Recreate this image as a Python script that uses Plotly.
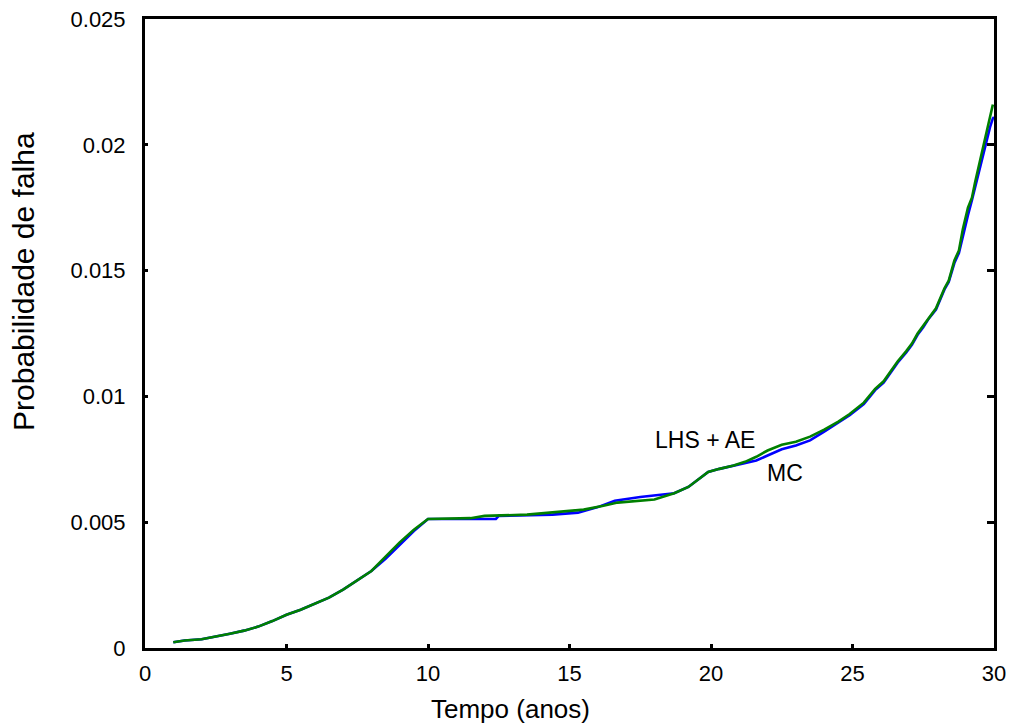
import plotly.graph_objects as go

# LHS + AE series (green)
lhs_x = [1.0, 1.4, 2.0, 2.5, 3.0, 3.5, 4.0, 4.5, 5.0, 5.5, 6.0, 6.5, 7.0, 7.5, 8.0,
         8.5, 9.0, 9.5, 10.0, 11.5, 12.0, 13.5, 14.4, 15.5, 16.2, 16.7, 18.0, 18.7,
         19.2, 19.5, 19.9, 20.3, 20.8, 21.2, 21.6, 22.0, 22.5, 23.0, 23.5, 24.0, 24.5,
         24.9, 25.4, 25.8, 26.1, 26.35, 26.6, 26.9, 27.1, 27.3, 27.5, 27.7, 27.95, 28.1,
         28.25, 28.4, 28.5, 28.6, 28.76, 28.9, 29.08, 29.22, 29.33, 29.43, 29.54, 29.65,
         29.75, 29.86, 29.96]
lhs_y = [0.00023, 0.00030, 0.00035, 0.00045, 0.00057, 0.00069, 0.00085, 0.00107, 0.00132,
         0.00152, 0.00176, 0.00200, 0.00232, 0.00270, 0.00306, 0.00363, 0.00420, 0.00470,
         0.00513, 0.00516, 0.00525, 0.00530, 0.00540, 0.00550, 0.00565, 0.00578, 0.00590,
         0.00615, 0.00640, 0.00665, 0.00700, 0.00712, 0.00725, 0.00740, 0.00760, 0.00785,
         0.00808, 0.00820, 0.00840, 0.00868, 0.00900, 0.00930, 0.00975, 0.01030, 0.01060,
         0.01100, 0.01140, 0.01180, 0.01210, 0.01250, 0.01280, 0.01315, 0.01350, 0.01390,
         0.01430, 0.01460, 0.01500, 0.01540, 0.01580, 0.01665, 0.01750, 0.01790, 0.01850,
         0.01900, 0.01950, 0.02010, 0.02060, 0.02110, 0.02160]

# MC series (blue)
mc_x = [1.0, 1.4, 2.0, 2.5, 3.0, 3.5, 4.0, 4.5, 5.0, 5.5, 6.0, 6.5, 7.0, 7.5, 8.0,
        8.5, 9.0, 9.5, 10.0, 12.4, 12.5, 14.4, 15.3, 16.0, 16.6, 17.5, 18.3, 18.7,
        19.2, 19.5, 19.9, 20.3, 20.8, 21.2, 21.6, 22.0, 22.5, 23.0, 23.5, 24.0, 24.5,
        24.9, 25.4, 25.8, 26.1, 26.35, 26.6, 26.9, 27.1, 27.3, 27.5, 27.7, 27.95, 28.1,
        28.25, 28.4, 28.5, 28.6, 28.76, 28.9, 29.08, 29.22, 29.33, 29.43, 29.54, 29.65,
        29.75, 29.86, 29.96, 30.0]
mc_y = [0.00023, 0.00030, 0.00035, 0.00045, 0.00057, 0.00069, 0.00085, 0.00107, 0.00132,
        0.00152, 0.00176, 0.00200, 0.00232, 0.00270, 0.00306, 0.00355, 0.00410, 0.00465,
        0.00513, 0.00513, 0.00525, 0.00530, 0.00538, 0.00560, 0.00585, 0.00600, 0.00610,
        0.00615, 0.00640, 0.00665, 0.00700, 0.00712, 0.00725, 0.00735, 0.00745, 0.00765,
        0.00790, 0.00805, 0.00825, 0.00860, 0.00895, 0.00925, 0.00970, 0.01025, 0.01055,
        0.01095, 0.01135, 0.01175, 0.01205, 0.01245, 0.01275, 0.01310, 0.01345, 0.01385,
        0.01425, 0.01455, 0.01495, 0.01530, 0.01570, 0.01640, 0.01720, 0.01780, 0.01830,
        0.01880, 0.01930, 0.01980, 0.02030, 0.02070, 0.02105, 0.02110]

x_ticks = [0, 5, 10, 15, 20, 25, 30]
y_ticks = [0, 0.005, 0.01, 0.015, 0.02, 0.025]
y_tick_labels = ["0", "0.005", "0.01", "0.015", "0.02", "0.025"]

FONT = "Liberation Sans, Arial, sans-serif"

fig = go.Figure()
fig.add_trace(go.Scatter(x=mc_x, y=mc_y, mode="lines", name="MC",
                         line=dict(color="#0000FF", width=2.6)))
fig.add_trace(go.Scatter(x=lhs_x, y=lhs_y, mode="lines", name="LHS + AE",
                         line=dict(color="#008000", width=2.6)))
# invisible trace to anchor the right-hand axis
fig.add_trace(go.Scatter(x=[None], y=[None], yaxis="y2", showlegend=False, hoverinfo="skip"))

fig.update_layout(
    width=1009, height=726,
    margin=dict(l=145, r=15, t=19, b=78, autoexpand=False),
    paper_bgcolor="white", plot_bgcolor="white",
    showlegend=False,
    font=dict(family=FONT, color="black"),
    xaxis=dict(range=[0, 30], tickvals=x_ticks, ticktext=[str(v) for v in x_ticks],
               ticks="inside", ticklen=4, tickwidth=3, tickcolor="black",
               showline=True, linecolor="black", linewidth=3, mirror=True,
               showgrid=False, zeroline=False, tickfont=dict(size=22, family=FONT),
               ticklabelstandoff=4, automargin=False, ticklabeloverflow="allow"),
    yaxis=dict(range=[0, 0.025], tickvals=y_ticks, ticktext=y_tick_labels,
               ticks="inside", ticklen=3, tickwidth=3, tickcolor="black",
               showline=True, linecolor="black", linewidth=3, mirror=True,
               showgrid=False, zeroline=False, tickfont=dict(size=22, family=FONT),
               ticklabelstandoff=12, automargin=False, ticklabeloverflow="allow"),
    yaxis2=dict(range=[0, 0.025], tickvals=y_ticks, overlaying="y", side="right",
                ticks="inside", ticklen=7, tickwidth=3, tickcolor="black",
                showticklabels=False, showgrid=False, zeroline=False, showline=False,
                automargin=False),
    annotations=[
        dict(text="LHS + AE", x=17.95, y=0.00827, xref="x", yref="y",
             xanchor="left", yanchor="middle", showarrow=False,
             font=dict(size=23, family=FONT, color="black")),
        dict(text="MC", x=21.9, y=0.00696, xref="x", yref="y",
             xanchor="left", yanchor="middle", showarrow=False,
             font=dict(size=23, family=FONT, color="black")),
        dict(text="Probabilidade de falha", x=-0.1425, y=0.582, xref="paper", yref="paper",
             xanchor="center", yanchor="middle", textangle=-90, showarrow=False,
             font=dict(size=30, family=FONT, color="black")),
        dict(text="Tempo (anos)", x=0.43, y=-0.097, xref="paper", yref="paper",
             xanchor="center", yanchor="middle", showarrow=False,
             font=dict(size=26, family=FONT, color="black")),
    ],
)

fig.write_html(
    "out.html",
    config={"displayModeBar": False},
    post_script="document.body.style.margin='0';document.body.style.overflow='hidden';",
)
